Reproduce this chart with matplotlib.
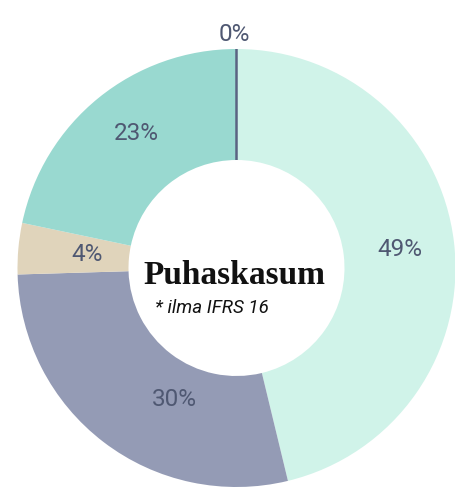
import numpy as np
import matplotlib
matplotlib.use("Agg")
import matplotlib.pyplot as plt

categories = ["A", "B", "C", "D", "E"]
values = [49, 30, 4, 23, 0]
labels = ["49%", "30%", "4%", "23%", "0%"]
colors = ["#d0f3e9", "#949bb5", "#e0d4bb", "#99d9d0", "#5a6382"]
title = "Puhaskasum"
subtitle = "* ilma IFRS 16"

# label placement tweaks (radius fraction, angle offset in degrees)
label_r = [0.75, 0.66, 0.685, 0.77, 1.07]
label_da = [0.0, -12.0, 0.5, 2.7, -0.6]

W, H = 456, 502
fig = plt.figure(figsize=(W / 100, H / 100), dpi=100)
ax = fig.add_axes([0, 0, 1, 1])

cx, cy = 236.5, H - 269
R = 219
ring = 111
wedges, _ = ax.pie(values, colors=colors, startangle=90, counterclock=False,
                   center=(cx, cy), radius=R, frame=True,
                   wedgeprops=dict(width=ring, linewidth=0, antialiased=True))
for w, v in zip(wedges, values):
    if v == 0:
        w.set_edgecolor(colors[4])
        w.set_linewidth(1.8)

ax.set_xlim(0, W)
ax.set_ylim(0, H)
ax.set_aspect("equal")
ax.axis("off")

for w, lab, lr, da in zip(wedges, labels, label_r, label_da):
    ang = np.deg2rad((w.theta1 + w.theta2) / 2 - da)
    r = R * lr
    ax.text(cx + r * np.cos(ang), cy + r * np.sin(ang), lab, ha="center", va="center",
            fontsize=17.5, color="#4f5872", family="Roboto")

ax.text(234, H - 284, title, ha="center", va="baseline", fontsize=24,
        fontweight="bold", family="Liberation Serif", color="#111111")
ax.text(155, H - 313, subtitle, ha="left", va="baseline", fontsize=13.5,
        style="italic", family="Roboto", color="#111111")

fig.savefig("out.png", dpi=100)
